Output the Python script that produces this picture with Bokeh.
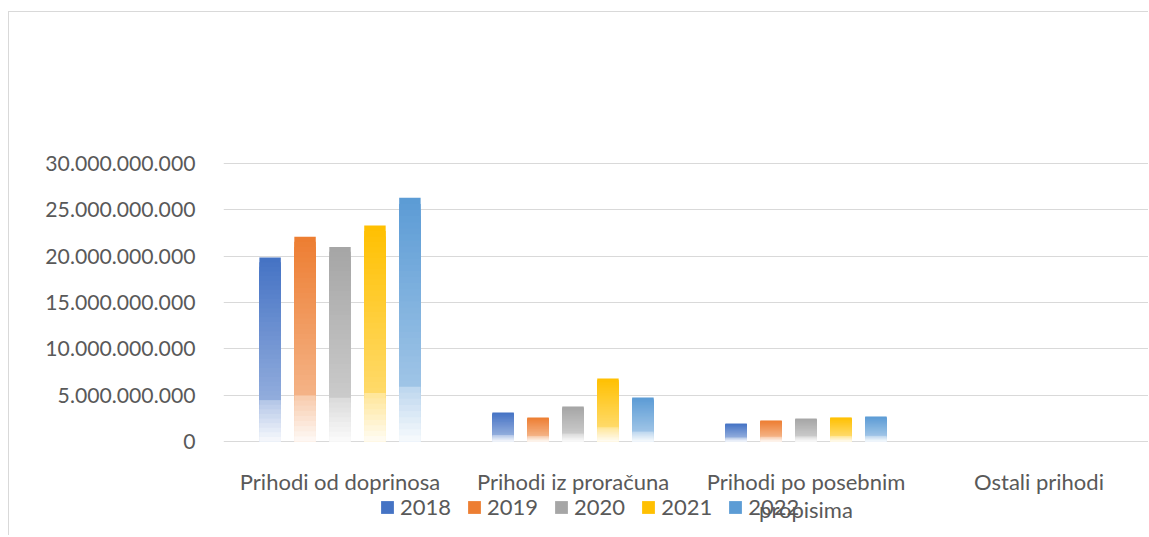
from bokeh.plotting import figure
from bokeh.models import (Range1d, FixedTicker, CustomJSTickFormatter, Legend,
                          LegendItem, ColumnDataSource)
from bokeh.core.properties import value
from bokeh.embed import file_html
from bokeh.resources import INLINE

# ---------------- data ----------------
categories = ["Prihodi od doprinosa", "Prihodi iz proračuna",
              "Prihodi po posebnim propisima", "Ostali prihodi"]
label_line1 = ["Prihodi od doprinosa", "Prihodi iz proračuna",
               "Prihodi po posebnim", "Ostali prihodi"]
label_line2 = ["", "", "propisima", ""]
years = ["2018", "2019", "2020", "2021", "2022"]
v2018 = [19.85e9, 3.13e9, 1.94e9, 0.0]
v2019 = [22.10e9, 2.59e9, 2.27e9, 0.0]
v2020 = [21.00e9, 3.78e9, 2.48e9, 0.0]
v2021 = [23.30e9, 6.80e9, 2.60e9, 0.0]
v2022 = [26.30e9, 4.75e9, 2.70e9, 0.0]
series = [v2018, v2019, v2020, v2021, v2022]
y_ticks = [0, 5e9, 10e9, 15e9, 20e9, 25e9, 30e9]

# ---------------- style ----------------
colors = ["#4472C4", "#ED7D31", "#A5A5A5", "#FFC000", "#5B9BD5"]
FONT = "Lato"
TXT = "#595959"
GRID = "#D9D9D9"
N_SLICES = 40
BAR_W = 0.092
STEP = 0.150

# page-pixel layout
CANVAS_LEFT, CANVAS_TOP = 9, 12
CANVAS_W, CANVAS_H = 1140, 524
FRAME_LEFT, FRAME_TOP = 223, 160
PX_ZERO, PX_TOP_TICK = 441, 163
CAT_PX = 233.0
FRAME_BOTTOM = CANVAS_TOP + CANVAS_H
FRAME_RIGHT = CANVAS_LEFT + CANVAS_W
unit = (y_ticks[-1] - y_ticks[0]) / (PX_ZERO - PX_TOP_TICK)  # data per px


def hex_to_rgb(h):
    h = h.lstrip("#")
    return tuple(int(h[i:i + 2], 16) for i in (0, 2, 4))


def whiten(f):
    # f: 0 at bar bottom, 1 at bar top -> amount of white mixed in
    if f >= 0.22:
        return 0.42 * (1 - f) / 0.78
    return 0.60 + 0.36 * (1 - f / 0.22)


def mix(hexcol, w):
    r, g, b = hex_to_rgb(hexcol)
    r = round(r + (255 - r) * w)
    g = round(g + (255 - g) * w)
    b = round(b + (255 - b) * w)
    return "#%02x%02x%02x" % (r, g, b)


p = figure(width=CANVAS_W, height=CANVAS_H, output_backend="svg",
           toolbar_location=None, x_axis_location=None,
           x_range=Range1d(0, (FRAME_RIGHT - FRAME_LEFT) / CAT_PX),
           y_range=Range1d(-(FRAME_BOTTOM - PX_ZERO) * unit,
                           (PX_ZERO - FRAME_TOP) * unit),
           min_border_left=FRAME_LEFT - CANVAS_LEFT, min_border_right=0,
           min_border_top=FRAME_TOP - CANVAS_TOP, min_border_bottom=0)
p.styles = {"margin-left": "8px", "margin-top": "11px",
            "border-left": "1px solid #D9D9D9",
            "border-top": "1px solid #D9D9D9"}
p.outline_line_color = None
p.background_fill_color = "white"
p.border_fill_color = "white"

legend_items = []
for j, (vals, col, yr) in enumerate(zip(series, colors, years)):
    xs, tops, cols = [], [], []
    for k in range(N_SLICES):
        frac = 1 - k / N_SLICES
        fmid = frac - 0.5 / N_SLICES
        c = mix(col, whiten(fmid))
        for i, v in enumerate(vals):
            xs.append(i + 0.5 + (j - 2) * STEP)
            tops.append(v * frac)
            cols.append(c)
    src = ColumnDataSource(dict(x=xs, top=tops, color=cols))
    r = p.vbar(x="x", top="top", bottom=0, width=BAR_W, source=src,
               fill_color="color", line_color=None)
    legend_items.append(LegendItem(label=yr, renderers=[r], index=0))

# grid
p.xgrid.visible = False
p.ygrid.ticker = FixedTicker(ticks=y_ticks)
p.ygrid.grid_line_color = GRID
p.ygrid.grid_line_width = 1

# category labels (x axis)
cx = [i + 0.5 for i in range(len(categories))]
p.text(x=cx, y=[-(481 - PX_ZERO) * unit] * len(cx), text=label_line1,
       text_align="center", text_baseline="alphabetic",
       text_font=value(FONT), text_font_size="22px", text_color=TXT)
p.text(x=cx, y=[-(509 - PX_ZERO) * unit] * len(cx), text=label_line2,
       text_align="center", text_baseline="alphabetic",
       text_font=value(FONT), text_font_size="22px", text_color=TXT)

# y axis
ya = p.yaxis[0]
ya.ticker = FixedTicker(ticks=y_ticks)
ya.formatter = CustomJSTickFormatter(code="""
    return Math.round(tick).toString().replace(/\\B(?=(\\d{3})+(?!\\d))/g, '.');
""")
ya.axis_line_color = None
ya.major_tick_line_color = None
ya.minor_tick_line_color = None
ya.major_label_standoff = 22
ya.major_label_text_font = FONT
ya.major_label_text_font_size = "21.2px"
ya.major_label_text_color = TXT

legend = Legend(items=legend_items, orientation="horizontal",
                location=(379 - FRAME_LEFT, FRAME_BOTTOM - 507 - 13),
                glyph_width=16, glyph_height=16,
                label_standoff=5, spacing=15, padding=0, margin=0,
                border_line_color=None, background_fill_alpha=0,
                label_text_font=FONT, label_text_font_size="22px",
                label_text_color=TXT)
p.add_layout(legend)

open("out.html", "w").write(file_html(p, INLINE))
